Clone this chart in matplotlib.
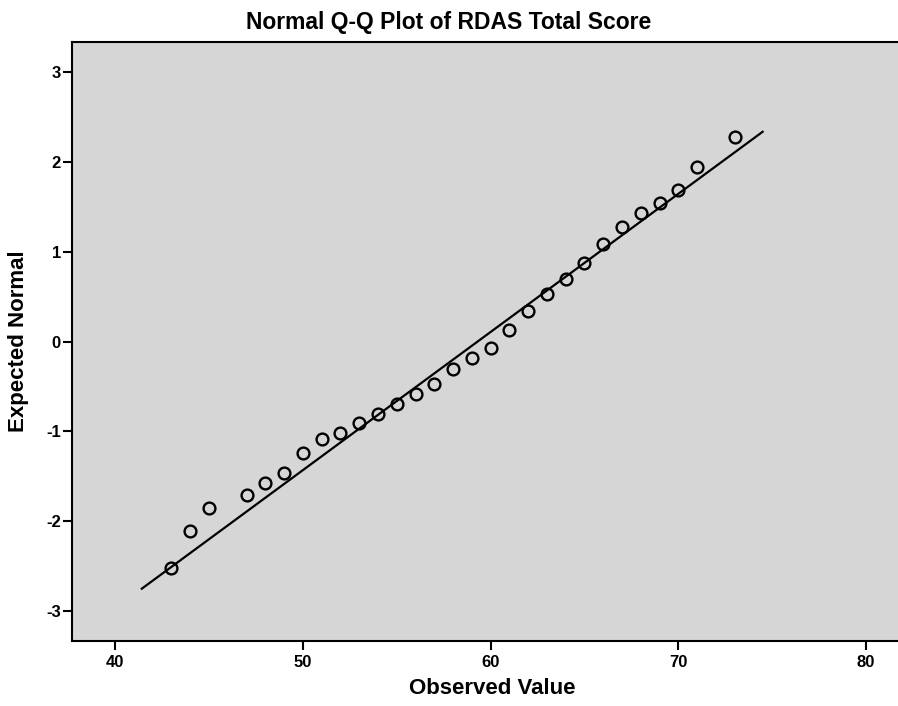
import numpy as np
import matplotlib.pyplot as plt

plt.rcParams['font.family'] = ['Liberation Sans', 'DejaVu Sans']
plt.rcParams['axes.unicode_minus'] = False

# observed RDAS total scores and their expected normal values
observed = [43, 44, 45, 47, 48, 49, 50, 51, 52, 53, 54, 55, 56, 57, 58,
            59, 60, 61, 62, 63, 64, 65, 66, 67, 68, 69, 70, 71, 73]
expected = [-2.52, -2.11, -1.85, -1.71, -1.57, -1.46, -1.24, -1.08, -1.02,
            -0.91, -0.81, -0.70, -0.58, -0.47, -0.31, -0.18, -0.07, 0.13,
            0.34, 0.53, 0.70, 0.87, 1.08, 1.27, 1.43, 1.54, 1.69, 1.94, 2.27]

# reference line: y = (x - mean) / sd
line_x = [41.42, 74.49]
mean_score = 59.31
sd_score = 6.51

xticks = [40, 50, 60, 70, 80]
yticks = [-3, -2, -1, 0, 1, 2, 3]

fig = plt.figure(figsize=(8.98, 7.06), dpi=100)
fig.patch.set_facecolor('white')
# axes runs off the right edge like in the scanned page
ax = fig.add_axes([72 / 898, 65 / 706, 841 / 898, 599 / 706])
ax.set_facecolor('#d6d6d6')

lx = np.array(line_x)
ax.plot(lx, (lx - mean_score) / sd_score, color='black', lw=1.6, zorder=2)
ax.plot(observed, expected, 'o', ms=8.5, mfc='none', mec='black', mew=1.7, zorder=3)

ax.set_xlim(37.7, 82.5)
ax.set_ylim(-3.33, 3.33)
ax.set_xticks(xticks)
ax.set_yticks(yticks)
ax.tick_params(length=6.5, width=1.5, labelsize=12, colors='black')
ax.tick_params(axis='x', pad=3.5)
ax.tick_params(axis='y', pad=1.5)
for lab in ax.get_xticklabels() + ax.get_yticklabels():
    lab.set_fontweight('bold')

for side in ['left', 'bottom', 'top', 'right']:
    ax.spines[side].set_linewidth(1.5)

ax.set_xlabel('Observed Value', fontsize=16, fontweight='bold', labelpad=6)
ax.set_ylabel('Expected Normal', fontsize=16, fontweight='bold', labelpad=12)

fig.text(0.5, 1 - 22 / 706, 'Normal Q-Q Plot of RDAS Total Score',
         ha='center', va='center', fontsize=16.5, fontweight='bold')

fig.savefig('out.png', dpi=100)
